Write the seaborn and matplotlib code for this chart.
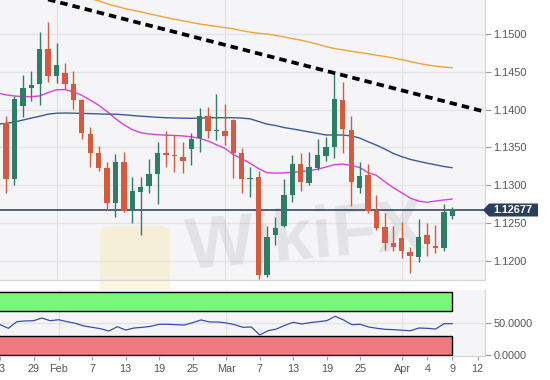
import numpy as np
import pandas as pd
import matplotlib
matplotlib.use("Agg")
import matplotlib.pyplot as plt
import seaborn as sns
from matplotlib.patches import Rectangle, Polygon, FancyBboxPatch

sns.set_theme(style="white")
plt.rcParams['font.family'] = ['Liberation Sans', 'DejaVu Sans']

# ---------------- data ----------------
trading_days = pd.bdate_range("2019-01-21", "2019-04-12")   # position = index

candle_idx = list(range(2, 57))
opens = [1.13532, 1.13819, 1.13078, 1.14048, 1.14282, 1.14335, 1.14802, 1.14444, 1.14488, 1.14339,
         1.14127, 1.13677, 1.13422, 1.13223, 1.12768, 1.13311, 1.12681, 1.12914, 1.12989, 1.13148,
         1.13430, 1.13399, 1.13377, 1.13475, 1.13620, 1.13915, 1.13713, 1.13721, 1.13862, 1.13422,
         1.13078, 1.13104, 1.11812, 1.12341, 1.12460, 1.12874, 1.13280, 1.13033, 1.13231, 1.13386,
         1.13509, 1.14127, 1.13730, 1.12959, 1.13135, 1.12663, 1.12451, 1.12231, 1.12298, 1.12120,
         1.12046, 1.12337, 1.12200, 1.12165, 1.12593]
highs = [1.13889, 1.13915, 1.14180, 1.14454, 1.14511, 1.15022, 1.15155, 1.14877, 1.14612, 1.14515,
         1.14136, 1.13774, 1.13522, 1.13311, 1.13409, 1.13435, 1.13104, 1.13112, 1.13350, 1.13575,
         1.13717, 1.13664, 1.13575, 1.13686, 1.14025, 1.14038, 1.14206, 1.14074, 1.13876, 1.13488,
         1.13245, 1.13192, 1.12464, 1.12583, 1.13078, 1.13399, 1.13422, 1.13443, 1.13607, 1.13634,
         1.14501, 1.14369, 1.13915, 1.13311, 1.13276, 1.12870, 1.12628, 1.12464, 1.12517, 1.12179,
         1.12553, 1.12496, 1.12474, 1.12747, 1.12715]
lows = [1.13492, 1.12893, 1.12999, 1.13898, 1.14118, 1.14057, 1.14365, 1.14348, 1.14269, 1.14004,
        1.13607, 1.13245, 1.13192, 1.12672, 1.12583, 1.12645, 1.12496, 1.12337, 1.12901, 1.12751,
        1.13245, 1.13179, 1.13157, 1.13271, 1.13443, 1.13620, 1.13598, 1.13532, 1.13091, 1.12893,
        1.12848, 1.11755, 1.11790, 1.12209, 1.12451, 1.12778, 1.12927, 1.13003, 1.13201, 1.13324,
        1.13356, 1.13422, 1.12725, 1.12893, 1.12636, 1.12407, 1.12143, 1.12133, 1.12033, 1.11834,
        1.11988, 1.12063, 1.12099, 1.12133, 1.12549]
closes = [1.13823, 1.13078, 1.14144, 1.14282, 1.14325, 1.14802, 1.14444, 1.14590, 1.14339, 1.14127,
          1.13686, 1.13422, 1.13223, 1.12768, 1.13311, 1.12663, 1.12927, 1.12972, 1.13148, 1.13422,
          1.13399, 1.13382, 1.13320, 1.13607, 1.13915, 1.13717, 1.13730, 1.13647, 1.13430, 1.13078,
          1.13099, 1.11812, 1.12311, 1.12434, 1.12870, 1.13276, 1.13038, 1.13245, 1.13399, 1.13509,
          1.14140, 1.13739, 1.13046, 1.13122, 1.12663, 1.12438, 1.12231, 1.12186, 1.12133, 1.12067,
          1.12319, 1.12222, 1.12169, 1.12641, 1.12677]

ma20 = [1.14220, 1.14195, 1.14180, 1.14172, 1.14172, 1.14180, 1.14225, 1.14262, 1.14265, 1.14235,
        1.14190, 1.14125, 1.14060, 1.13975, 1.13880, 1.13800, 1.13735, 1.13695, 1.13678, 1.13668,
        1.13662, 1.13658, 1.13652, 1.13640, 1.13620, 1.13585, 1.13535, 1.13488, 1.13405, 1.13350,
        1.13290, 1.13220, 1.13165, 1.13160, 1.13163, 1.13170, 1.13180, 1.13192, 1.13212, 1.13240,
        1.13272, 1.13280, 1.13262, 1.13235, 1.13165, 1.13130, 1.13045, 1.12967, 1.12900, 1.12830,
        1.12790, 1.12775, 1.12790, 1.12805, 1.12817]
ma50 = [1.13808, 1.13818, 1.13835, 1.13862, 1.13888, 1.13912, 1.13940, 1.13952, 1.13955, 1.13953,
        1.13950, 1.13947, 1.13943, 1.13940, 1.13939, 1.13932, 1.13922, 1.13913, 1.13906, 1.13898,
        1.13893, 1.13889, 1.13887, 1.13885, 1.13888, 1.13892, 1.13893, 1.13893, 1.13893, 1.13888,
        1.13878, 1.13843, 1.13808, 1.13790, 1.13763, 1.13745, 1.13725, 1.13705, 1.13685, 1.13664,
        1.13664, 1.13664, 1.13652, 1.13625, 1.13575, 1.13530, 1.13478, 1.13420, 1.13378, 1.13342,
        1.13316, 1.13292, 1.13270, 1.13248, 1.13231]
ma200_idx = list(range(10, 57))
ma200 = [1.15550, 1.15520, 1.15490, 1.15465, 1.15440, 1.15400, 1.15370, 1.15340, 1.15315, 1.15293,
         1.15268, 1.15243, 1.15218, 1.15196, 1.15175, 1.15153, 1.15132, 1.15116, 1.15100, 1.15085,
         1.15068, 1.15045, 1.15025, 1.15010, 1.15000, 1.14982, 1.14962, 1.14940, 1.14920, 1.14893,
         1.14865, 1.14833, 1.14808, 1.14790, 1.14772, 1.14755, 1.14738, 1.14720, 1.14702, 1.14683,
         1.14660, 1.14637, 1.14612, 1.14592, 1.14575, 1.14562, 1.14554]
rsi = [48.0, 42.0, 52.6, 53.7, 54.1, 58.4, 54.1, 55.7, 52.6, 50.0,
       45.7, 43.6, 41.4, 37.7, 44.6, 39.3, 42.5, 43.6, 45.2, 48.4,
       48.4, 47.8, 47.3, 51.0, 55.3, 52.1, 52.1, 50.5, 47.8, 43.6,
       44.1, 31.4, 38.2, 40.9, 46.8, 51.6, 48.9, 51.0, 52.6, 54.1,
       61.1, 55.3, 47.8, 48.4, 44.1, 42.0, 40.4, 39.8, 38.9, 38.2,
       42.5, 42.0, 40.9, 49.4, 49.4]
trend_idx = [8, 60]
trend_price = [1.15457, 1.13969]
last_price = 1.12677
rsi_upper = [70, 100]
rsi_lower = [0, 30]

price_ticks = [1.1200, 1.1250, 1.1300, 1.1350, 1.1400, 1.1450, 1.1500]
rsi_ticks = [0, 50]
tick_dates = ["2019-01-23", "2019-01-29", "2019-02-01", "2019-02-07", "2019-02-13", "2019-02-19",
              "2019-02-25", "2019-03-01", "2019-03-07", "2019-03-13", "2019-03-19", "2019-03-25",
              "2019-04-01", "2019-04-04", "2019-04-09", "2019-04-12"]
tick_labels = ["23", "29", "Feb", "7", "13", "19", "25", "Mar", "7", "13", "19", "25",
               "Apr", "4", "9", "12"]
month_starts = ["2019-02-01", "2019-03-01", "2019-04-01"]

# ---------------- style ----------------
UP = "#2f7d66"
DOWN = "#d65a40"
BG = "#f5f5f7"
GRID = "#e3e3e6"
TXT = "#555555"

W, H = 550, 380
fig = plt.figure(figsize=(W / 100, H / 100), dpi=100)
fig.patch.set_facecolor("white")

def fx(x):
    return x / W

def fy(y):
    return 1 - y / H

XL = (2.287, 59.89)
tick_pos = [trading_days.get_loc(pd.Timestamp(d)) for d in tick_dates]
month_pos = [trading_days.get_loc(pd.Timestamp(d)) for d in month_starts]

# ---------------- main panel ----------------
ax = fig.add_axes([0, fy(280), fx(485), fy(0) - fy(280)])
ax.set_facecolor(BG)
ax.set_xlim(*XL)
ax.set_ylim(1.11746, 1.15450)

ax.set_yticks(price_ticks)
ax.set_yticklabels([f"{v:.4f}" for v in price_ticks])
ax.yaxis.tick_right()
ax.set_xticks([])
ax.grid(False)
for v in price_ticks:
    ax.axhline(v, color=GRID, lw=0.9, zorder=0.5)
for m in month_pos:
    ax.axvline(m, color=GRID, lw=0.9, zorder=0.5)
ax.tick_params(axis="y", right=True, length=4, width=0.8, color="#9a9a9a",
               labelsize=7.8, labelcolor=TXT, pad=2)
for s in ["left", "top"]:
    ax.spines[s].set_visible(False)
for s in ["right", "bottom"]:
    ax.spines[s].set_color("#d6d6d8")
    ax.spines[s].set_linewidth(0.9)

# watermark (behind candles)
ax.add_patch(FancyBboxPatch((fx(100), fy(296)), fx(70), fy(226) - fy(296),
                            boxstyle="round,pad=0,rounding_size=0.02",
                            transform=fig.transFigure, facecolor="#f6e3a0",
                            edgecolor="none", alpha=0.35, zorder=0.6, clip_on=False))
ax.text(fx(306), fy(240), "WikiFX", transform=fig.transFigure, fontsize=52,
        fontweight="bold", color="#8c8c8c", alpha=0.17, rotation=5,
        ha="center", va="center", zorder=0.7)

# moving averages
sns.lineplot(x=candle_idx, y=ma20, ax=ax, color="#dc3fdc", lw=1.0, zorder=2, sort=False)
sns.lineplot(x=candle_idx, y=ma50, ax=ax, color="#3b5a9a", lw=1.0, zorder=2, sort=False)
sns.lineplot(x=ma200_idx, y=ma200, ax=ax, color="#f2a238", lw=1.0, zorder=2, sort=False)

# current price line
ax.axhline(last_price, color="#22385a", lw=1.1, zorder=2.5)

# candles
o = np.array(opens); c = np.array(closes)
colors = [UP if cc >= oo else DOWN for oo, cc in zip(o, c)]
bottoms = np.minimum(o, c)
heights = np.maximum(np.abs(c - o), 0.00006)
ax.vlines(candle_idx, lows, highs, colors=colors, lw=1.0, zorder=3)
ax.bar(candle_idx, heights, bottom=bottoms, width=0.64, color=colors, linewidth=0, zorder=3.5)

# trendline
ax.plot(trend_idx, trend_price, color="black", lw=2.7, dashes=(2.0, 1.35),
        dash_capstyle="butt", zorder=5)

# ---------------- RSI panel ----------------
ax2 = fig.add_axes([0, fy(355.7), fx(485), fy(290) - fy(355.7)])
ax2.set_facecolor(BG)
ax2.set_xlim(*XL)
ax2.set_ylim(-1.6, 103)
ax2.grid(False)
for m in month_pos:
    ax2.axvline(m, color=GRID, lw=0.9, zorder=0.5)
ax2.axhline(50, color=GRID, lw=0.9, zorder=0.5)

x_end = candle_idx[-1]
ax2.add_patch(Rectangle((0, rsi_upper[0]), x_end, rsi_upper[1] - rsi_upper[0],
                        facecolor="#79f77b", edgecolor="black", lw=1.0, zorder=1))
ax2.add_patch(Rectangle((0, rsi_lower[0]), x_end, rsi_lower[1] - rsi_lower[0],
                        facecolor="#f07b7e", edgecolor="black", lw=1.0, zorder=1))
sns.lineplot(x=candle_idx, y=rsi, ax=ax2, color="#3a4db0", lw=0.9, zorder=3, sort=False)

ax2.set_yticks(rsi_ticks)
ax2.set_yticklabels([f"{v:.4f}" for v in rsi_ticks])
ax2.yaxis.tick_right()
ax2.set_xticks(tick_pos)
ax2.set_xticklabels(tick_labels)
ax2.tick_params(axis="y", right=True, length=4, width=0.8, color="#9a9a9a",
                labelsize=7.8, labelcolor=TXT, pad=2)
ax2.tick_params(axis="x", bottom=True, length=3, width=0.8, color="#9a9a9a",
                labelsize=7.8, labelcolor=TXT, pad=3)
for s in ["left", "top"]:
    ax2.spines[s].set_visible(False)
for s in ["right", "bottom"]:
    ax2.spines[s].set_color("#d6d6d8")
    ax2.spines[s].set_linewidth(0.9)
ax2.set_xlabel(""); ax2.set_ylabel("")
ax.set_xlabel(""); ax.set_ylabel("")

# ---------------- price tag ----------------
yc = 210
tag = Polygon([(fx(483), fy(yc)), (fx(489), fy(yc - 6.5)), (fx(538), fy(yc - 6.5)),
               (fx(538), fy(yc + 6.5)), (fx(489), fy(yc + 6.5))],
              closed=True, transform=fig.transFigure, facecolor="#2a3f5c",
              edgecolor="none", zorder=10)
fig.patches.append(tag)
fig.text(fx(513), fy(yc), f"{last_price:.5f}", color="white", fontsize=7.8,
         fontweight="bold", ha="center", va="center", zorder=11)

fig.savefig("out.png", dpi=100)
